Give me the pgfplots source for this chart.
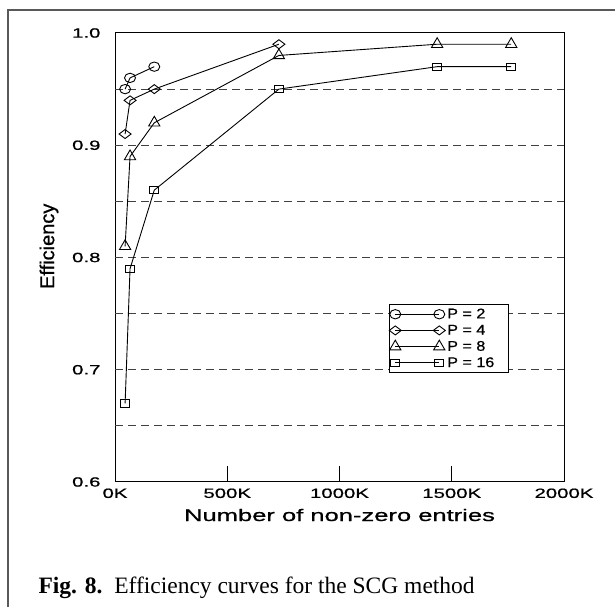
\documentclass[border=0pt]{standalone}
\usepackage{fontspec}
\setmainfont{Liberation Sans}
\newfontfamily\capfont{Liberation Serif}
\newfontfamily\widefont[FakeStretch=1.52,FakeBold=0.8]{Liberation Sans}
\newfontfamily\legfont[FakeStretch=1.15,FakeBold=0.8]{Liberation Sans}
\newfontfamily\labfont[FakeBold=0.8]{Liberation Sans}
\usepackage{pgfplots}
\pgfplotsset{compat=1.18}

\pgfplotstableread{
x y
45 0.95
67 0.96
175 0.97
}\ptwo
\pgfplotstableread{
x y
45 0.91
67 0.94
175 0.95
730 0.99
}\pfour
\pgfplotstableread{
x y
45 0.81
67 0.89
175 0.92
730 0.98
1435 0.99
1765 0.99
}\peight
\pgfplotstableread{
x y
45 0.67
67 0.79
175 0.86
730 0.95
1435 0.97
1765 0.97
}\psixteen

\begin{document}
\begin{tikzpicture}
\useasboundingbox (0,0) rectangle (615pt,607pt);
\draw[black!65, line width=1.5pt] (8pt,0) -- (8pt,597pt) -- (615pt,597pt);
\begin{axis}[
  at={(115pt,125pt)}, anchor=south west,
  scale only axis,
  width=449pt, height=449pt,
  xmin=0, xmax=2000, ymin=0.6, ymax=1.0,
  xtick={0,500,1000,1500,2000},
  xticklabels={0K,500K,1000K,1500K,2000K},
  ytick={0.6,0.7,0.8,0.9,1.0},
  yticklabels={0.6,0.7,0.8,0.9,1.0},
  minor ytick={0.65,0.7,0.75,0.8,0.85,0.9,0.95},
  ytick style={draw=none},
  major tick length=16pt,
  minor tick length=5pt,
  tick align=inside,
  xtick pos=bottom, ytick pos=left,
  extra y ticks={0.65,0.7,0.75,0.8,0.85,0.9,0.95},
  extra y tick labels={},
  extra y tick style={ymajorgrids=true, major tick length=0pt,
    major grid style={black!75, line width=0.8pt, dash pattern=on 8pt off 5pt}},
  axis line style={line width=1pt},
  tick style={black, line width=0.9pt},
  /pgf/number format/assume math mode=true,
  xticklabel style={font=\widefont\fontsize{13.4}{15}\selectfont, yshift=-3pt},
  yticklabel style={font=\widefont\fontsize{13.4}{15}\selectfont, xshift=-11pt},
  xlabel={Number of non-zero entries},
  ylabel={Efficiency},
  every axis x label/.style={at={(axis description cs:0.5,-0.0735)},anchor=center,
    font=\widefont\fontsize{16.8}{18}\selectfont},
  every axis y label/.style={at={(axis description cs:-0.147,0.525)},rotate=90,anchor=center},
  ylabel style={font=\labfont\fontsize{20}{22}\selectfont},
  legend style={at={(0.61,0.396)}, anchor=north west, draw=black, fill=white,
    font=\legfont\fontsize{14}{15}\selectfont, row sep=1.0pt, inner xsep=0pt, inner ysep=2pt,
    line width=0.8pt},
  legend cell align=left,
  legend image code/.code={\draw[#1] plot coordinates {(4pt,0pt) (48pt,0pt)};},
  every axis plot/.append style={black, line width=0.9pt, mark options={solid, fill=white, line width=0.9pt}},
]
\addplot[mark=o, mark size=5.5pt, mark options={yscale=0.85}] table[x=x,y=y] {\ptwo};
\addlegendentry{P = 2}
\addplot[mark=diamond, mark size=6pt, mark options={rotate=90}] table[x=x,y=y] {\pfour};
\addlegendentry{P = 4}
\addplot[mark=triangle, mark size=6.5pt] table[x=x,y=y] {\peight};
\addlegendentry{P = 8}
\addplot[mark=square, mark size=4.5pt, mark options={yscale=0.8}] table[x=x,y=y] {\psixteen};
\addlegendentry{P = 16\hspace*{12pt}}
\end{axis}
\node[anchor=base west, font=\capfont\fontsize{23.5}{26}\selectfont] at (35pt,13pt)
  {\textbf{Fig. 8.}\enspace Efficiency curves for the SCG method};
\end{tikzpicture}
\end{document}
